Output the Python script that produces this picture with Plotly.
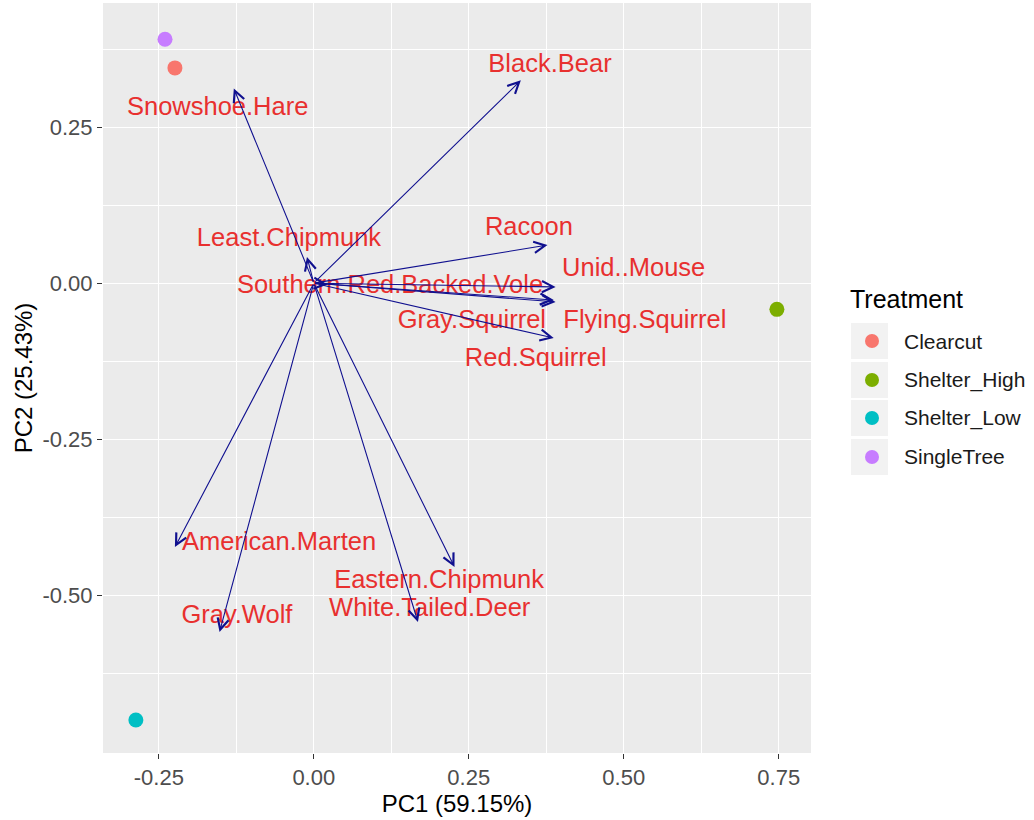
import plotly.graph_objects as go

# ---- data ----
treatments = ["Clearcut", "Shelter_High", "Shelter_Low", "SingleTree"]
pc1_scores = [-0.224, 0.747, -0.287, -0.240]
pc2_scores = [0.345, -0.042, -0.700, 0.391]
treat_colors = ["#F8766D", "#7CAE00", "#00BFC4", "#C77CFF"]

species = ["Black.Bear", "Snowshoe.Hare", "Least.Chipmunk", "Racoon", "Unid..Mouse",
           "Southern.Red.Backed.Vole", "Gray.Squirrel", "Flying.Squirrel", "Red.Squirrel",
           "American.Marten", "Eastern.Chipmunk", "White.Tailed.Deer", "Gray.Wolf"]
load_pc1 = [0.334, -0.129, -0.011, 0.377, 0.390, 0.022, 0.387, 0.390, 0.387,
            -0.224, 0.227, 0.168, -0.152]
load_pc2 = [0.325, 0.312, 0.042, 0.061, -0.006, -0.002, -0.027, -0.030, -0.088,
            -0.423, -0.455, -0.543, -0.559]
label_pc1 = [0.381, -0.155, -0.040, 0.347, 0.516, 0.123, 0.255, 0.534, 0.358,
             -0.056, 0.202, 0.187, -0.124]
label_pc2 = [0.348, 0.280, 0.069, 0.087, 0.021, -0.006, -0.062, -0.062, -0.123,
             -0.417, -0.479, -0.524, -0.535]

x_ticks = [-0.25, 0.0, 0.25, 0.5, 0.75]
x_ticktext = ["-0.25", "0.00", "0.25", "0.50", "0.75"]
y_ticks = [0.25, 0.0, -0.25, -0.5]
y_ticktext = ["0.25", "0.00", "-0.25", "-0.50"]
x_minor = [-0.125, 0.125, 0.375, 0.625]
y_minor = [0.375, 0.125, -0.125, -0.375, -0.625]

x_title = "PC1 (59.15%)"
y_title = "PC2 (25.43%)"
legend_title = "Treatment"

FONT = "Liberation Sans, Arial, sans-serif"
ARROW_COL = "#10108F"
LABEL_COL = "#E8302F"

fig = go.Figure()

# variable labels
fig.add_trace(go.Scatter(
    x=label_pc1, y=label_pc2, mode="text", text=species,
    textfont=dict(family=FONT, size=25.5, color=LABEL_COL),
    showlegend=False, hoverinfo="skip"))

# score points
for t, xv, yv, c in zip(treatments, pc1_scores, pc2_scores, treat_colors):
    fig.add_trace(go.Scatter(
        x=[xv], y=[yv], mode="markers", name=t,
        marker=dict(color=c, size=15, line=dict(width=0)),
        showlegend=False))

# loading arrows
for sx, sy in zip(load_pc1, load_pc2):
    fig.add_annotation(
        x=sx, y=sy, ax=0, ay=0, xref="x", yref="y", axref="x", ayref="y",
        text="", showarrow=True, arrowhead=5, arrowsize=2.0, arrowwidth=1.1,
        arrowcolor=ARROW_COL, standoff=0, startstandoff=0)

# ---- manual ggplot-like legend ----
W, H = 1034, 820
L, R, T, B = 103, 223, 3, 67
pw, ph = W - L - R, H - T - B

def px(x):
    return (x - L) / pw

def py(y):
    return (H - B - y) / ph

fig.add_annotation(x=px(848), y=py(299), xref="paper", yref="paper",
                   text=legend_title, showarrow=False, xanchor="left", yanchor="middle",
                   font=dict(family=FONT, size=25, color="black"))
row_y = [341, 380, 418, 457]
for i, (t, c) in enumerate(zip(treatments, treat_colors)):
    yc = row_y[i]
    fig.add_shape(type="rect", xref="paper", yref="paper",
                  x0=px(851), x1=px(888), y0=py(yc - 18), y1=py(yc + 18),
                  fillcolor="#F2F2F2", line=dict(width=0), layer="below")
    fig.add_shape(type="circle", xref="paper", yref="paper",
                  xsizemode="pixel", ysizemode="pixel",
                  xanchor=px(872), yanchor=py(yc),
                  x0=-7, x1=7, y0=-7, y1=7,
                  fillcolor=c, line=dict(width=0))
    fig.add_annotation(x=px(902), y=py(yc), xref="paper", yref="paper",
                       text=t, showarrow=False, xanchor="left", yanchor="middle",
                       font=dict(family=FONT, size=21, color="#1A1A1A"))

fig.update_layout(
    width=W, height=H,
    margin=dict(l=L, r=R, t=T, b=B),
    paper_bgcolor="white", plot_bgcolor="#EBEBEB",
    font=dict(family=FONT),
    showlegend=False,
    xaxis=dict(
        range=[-0.340, 0.802], tickvals=x_ticks, ticktext=x_ticktext,
        showgrid=True, gridcolor="white", gridwidth=1.4, zeroline=False,
        ticks="outside", ticklen=5, tickcolor="#333333", tickwidth=1,
        tickfont=dict(family=FONT, size=22, color="#4D4D4D"),
        minor=dict(tickvals=x_minor, showgrid=True, gridcolor="white", gridwidth=0.7, ticks=""),
        title=dict(text=x_title, font=dict(family=FONT, size=24, color="black"), standoff=2),
        showline=False),
    yaxis=dict(
        range=[-0.753, 0.449], tickvals=y_ticks, ticktext=y_ticktext,
        showgrid=True, gridcolor="white", gridwidth=1.4, zeroline=False,
        ticks="outside", ticklen=5, tickcolor="#333333", tickwidth=1,
        tickfont=dict(family=FONT, size=22, color="#4D4D4D"),
        minor=dict(tickvals=y_minor, showgrid=True, gridcolor="white", gridwidth=0.7, ticks=""),
        title=dict(text=y_title, font=dict(family=FONT, size=24, color="black"), standoff=3),
        showline=False),
)

fig.write_html("out.html")
